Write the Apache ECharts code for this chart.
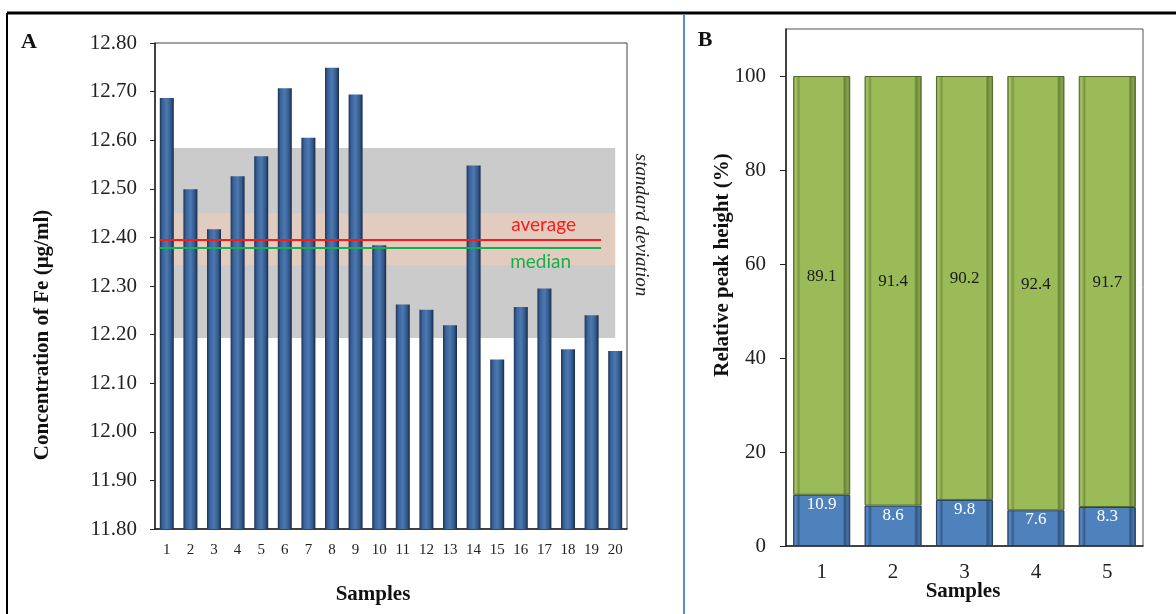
<!DOCTYPE html>
<html>
<head>
<meta charset="utf-8">
<script src="https://cdn.jsdelivr.net/npm/echarts@6/dist/echarts.min.js"></script>
<style>
  html, body { margin: 0; padding: 0; background: #fff; }
  #main { width: 1176px; height: 614px; }
</style>
</head>
<body>
<div id="main"></div>
<script>
// panel A data
var samplesA = ['1','2','3','4','5','6','7','8','9','10','11','12','13','14','15','16','17','18','19','20'];
var feConc = [12.687, 12.499, 12.417, 12.526, 12.567, 12.707, 12.605, 12.749, 12.694, 12.384,
              12.262, 12.251, 12.219, 12.548, 12.149, 12.257, 12.295, 12.170, 12.240, 12.166];
var feAverage = 12.395;
var feMedian = 12.379;
var sdBand = [12.193, 12.584];     // standard deviation band (grey)
var innerBand = [12.343, 12.450];  // light orange band
var yTicksA = [11.8, 11.9, 12.0, 12.1, 12.2, 12.3, 12.4, 12.5, 12.6, 12.7, 12.8];

// panel B data
var samplesB = ['1','2','3','4','5'];
var peakBlue = [10.9, 8.6, 9.8, 7.6, 8.3];
var peakGreen = [89.1, 91.4, 90.2, 92.4, 91.7];
var yTicksB = [0, 20, 40, 60, 80, 100];

var serif = '"Liberation Serif", "DejaVu Serif", serif';
var txt = '#222';

var barBlueA = new echarts.graphic.LinearGradient(0, 0, 1, 0, [
    {offset: 0, color: '#1d3557'},
    {offset: 0.2, color: '#3a6399'},
    {offset: 0.5, color: '#4c79b1'},
    {offset: 0.8, color: '#33598b'},
    {offset: 1, color: '#172a45'}
]);
var bevelGreen = new echarts.graphic.LinearGradient(0, 0, 1, 0, [
    {offset: 0, color: '#5f7830'},
    {offset: 0.04, color: '#a9c66a'},
    {offset: 0.1, color: '#7b973f'},
    {offset: 0.13, color: '#9bbb59'},
    {offset: 0.87, color: '#9bbb59'},
    {offset: 0.9, color: '#6a8436'},
    {offset: 0.96, color: '#8aa64c'},
    {offset: 1, color: '#4f6428'}
]);
var bevelBlue = new echarts.graphic.LinearGradient(0, 0, 1, 0, [
    {offset: 0, color: '#2a4a72'},
    {offset: 0.04, color: '#5a8cc8'},
    {offset: 0.1, color: '#345c8e'},
    {offset: 0.13, color: '#4f81bd'},
    {offset: 0.87, color: '#4f81bd'},
    {offset: 0.9, color: '#30557f'},
    {offset: 0.96, color: '#4474ab'},
    {offset: 1, color: '#1f3a5c'}
]);

var chart = echarts.init(document.getElementById('main'));

var option = {
    backgroundColor: '#fff',
    animation: false,
    grid: [
        {left: 155, top: 43, right: 549, bottom: 85, show: true, borderColor: '#444', borderWidth: 1},
        {left: 786, top: 29, right: 33, bottom: 68, show: true, borderColor: '#555', borderWidth: 1}
    ],
    xAxis: [
        {
            type: 'category', gridIndex: 0, data: samplesA,
            axisLine: {lineStyle: {color: '#222', width: 1.5}},
            axisTick: {length: 5, lineStyle: {color: '#222'}},
            axisLabel: {color: txt, fontFamily: serif, fontSize: 15, margin: 14}
        },
        {type: 'value', gridIndex: 0, min: 0, max: 20, show: false},
        {
            type: 'category', gridIndex: 1, data: samplesB,
            axisLine: {lineStyle: {color: '#222', width: 1.5}},
            axisTick: {length: 6, lineStyle: {color: '#222'}},
            axisLabel: {color: txt, fontFamily: serif, fontSize: 21, margin: 16}
        }
    ],
    yAxis: [
        {
            type: 'value', gridIndex: 0, min: 11.8, max: 12.8, interval: 0.1,
            splitLine: {show: false},
            axisLine: {show: true, lineStyle: {color: '#222', width: 1.5}},
            axisTick: {show: true, length: 5, lineStyle: {color: '#222'}},
            axisLabel: {
                color: txt, fontFamily: serif, fontSize: 21, margin: 18,
                customValues: yTicksA,
                formatter: function (v) { return v.toFixed(2); }
            }
        },
        {
            type: 'value', gridIndex: 1, min: 0, max: 110, interval: 20,
            splitLine: {show: false},
            axisLine: {show: true, lineStyle: {color: '#222', width: 1.5}},
            axisTick: {show: true, length: 6, customValues: yTicksB, lineStyle: {color: '#222'}},
            axisLabel: {color: txt, fontFamily: serif, fontSize: 21, margin: 20, customValues: yTicksB}
        }
    ],
    series: [
        {
            // grey standard deviation band, behind the bars
            type: 'line', xAxisIndex: 1, yAxisIndex: 0, data: [], z: 1, silent: true,
            markArea: {
                silent: true,
                itemStyle: {color: '#cbcbcb'},
                data: [[{coord: [0.2, sdBand[1]]}, {coord: [19.5, sdBand[0]]}]]
            }
        },
        {
            type: 'bar', xAxisIndex: 0, yAxisIndex: 0, data: feConc, z: 2,
            barWidth: 14,
            itemStyle: {color: barBlueA}
        },
        {
            // orange band on top of bars + average / median lines
            type: 'line', xAxisIndex: 1, yAxisIndex: 0, data: [], z: 3, silent: true,
            markArea: {
                silent: true,
                itemStyle: {color: 'rgba(236,205,184,0.65)'},
                data: [[{coord: [0.2, innerBand[1]]}, {coord: [19.5, innerBand[0]]}]]
            },
            markLine: {
                silent: true, symbol: 'none', z: 5,
                data: [
                    [{coord: [0.2, feAverage], lineStyle: {color: '#ff1a1a', width: 2, type: 'solid'},
                      label: {show: true, formatter: 'average', position: 'insideEndTop', color: '#ff1a1a',
                              fontFamily: 'Lato, "Open Sans", sans-serif', fontSize: 19, distance: 5,
                              padding: [0, 20, 0, 0]}},
                     {coord: [18.9, feAverage]}],
                    [{coord: [0.2, feMedian], lineStyle: {color: '#13b04b', width: 2, type: 'solid'},
                      label: {show: true, formatter: 'median', position: 'insideEndBottom', color: '#13b04b',
                              fontFamily: 'Lato, "Open Sans", sans-serif', fontSize: 19, distance: 5,
                              padding: [0, 25, 0, 0]}},
                     {coord: [18.9, feMedian]}]
                ]
            }
        },
        {
            type: 'bar', xAxisIndex: 2, yAxisIndex: 1, stack: 'peak', data: peakBlue,
            barWidth: '80%',
            itemStyle: {color: bevelBlue, borderColor: '#243f62', borderWidth: 1},
            label: {show: true, position: 'insideTop', distance: 1, color: '#fff',
                    fontFamily: serif, fontSize: 17,
                    formatter: function (p) { return p.value.toFixed(1); }}
        },
        {
            type: 'bar', xAxisIndex: 2, yAxisIndex: 1, stack: 'peak', data: peakGreen,
            barWidth: '80%',
            itemStyle: {color: bevelGreen, borderColor: '#55692b', borderWidth: 1},
            label: {show: true, position: 'inside', color: '#1a1a1a',
                    fontFamily: serif, fontSize: 17, offset: [0, -9],
                    formatter: function (p) { return p.value.toFixed(1); }}
        }
    ],
    graphic: [
        // frame
        {type: 'line', shape: {x1: 7, y1: 13, x2: 1176, y2: 13}, style: {stroke: '#000', lineWidth: 3}, z: 10},
        {type: 'line', shape: {x1: 7, y1: 13, x2: 7, y2: 614}, style: {stroke: '#000', lineWidth: 2}, z: 10},
        {type: 'line', shape: {x1: 684, y1: 14, x2: 684, y2: 614}, style: {stroke: '#5b8bd0', lineWidth: 2}, z: 10},
        // panel letters
        {type: 'text', x: 29, y: 42, style: {text: 'A', font: 'bold 22px ' + serif, fill: '#111', align: 'center', verticalAlign: 'middle'}},
        {type: 'text', x: 705, y: 40, style: {text: 'B', font: 'bold 22px ' + serif, fill: '#111', align: 'center', verticalAlign: 'middle'}},
        // axis titles
        {type: 'text', x: 43, y: 335, rotation: Math.PI / 2,
         style: {text: 'Concentration of Fe (μg/ml)', font: 'bold 21px ' + serif, fill: '#111', align: 'center', verticalAlign: 'middle'}},
        {type: 'text', x: 373, y: 595,
         style: {text: 'Samples', font: 'bold 21px ' + serif, fill: '#111', align: 'center', verticalAlign: 'middle'}},
        {type: 'text', x: 641, y: 225, rotation: -Math.PI / 2,
         style: {text: 'standard deviation', font: 'italic 19px ' + serif, fill: '#222', align: 'center', verticalAlign: 'middle'}},
        {type: 'text', x: 723, y: 265, rotation: Math.PI / 2,
         style: {text: 'Relative peak height (%)', font: 'bold 21px ' + serif, fill: '#111', align: 'center', verticalAlign: 'middle'}},
        {type: 'text', x: 963, y: 592,
         style: {text: 'Samples', font: 'bold 21px ' + serif, fill: '#111', align: 'center', verticalAlign: 'middle'}}
    ]
};

chart.setOption(option);
</script>
</body>
</html>
